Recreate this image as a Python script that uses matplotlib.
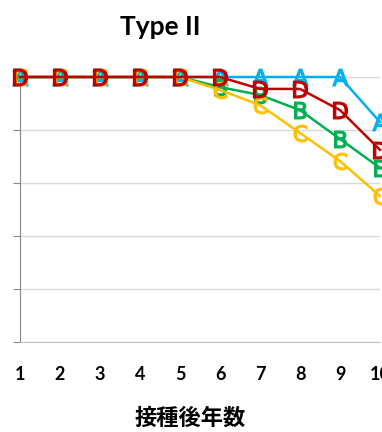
import matplotlib.pyplot as plt

plt.rcParams['font.family'] = ['Lato', 'Noto Sans CJK JP', 'DejaVu Sans']
plt.rcParams['mathtext.fontset'] = 'dejavusans'

years = [1, 2, 3, 4, 5, 6, 7, 8, 9, 10]
series_a = [100, 100, 100, 100, 100, 100, 100, 100, 100, 83]
series_b = [100, 100, 100, 100, 100, 96.2, 93.2, 87.5, 76.6, 65.7]
series_c = [100, 100, 100, 100, 100, 95.1, 89.4, 78.9, 68.3, 55.1]
series_d = [100, 100, 100, 100, 100, 100, 95.5, 95.5, 87.5, 72.5]

series = [
    ("A", series_a, "#00b0f0"),
    ("B", series_b, "#00b050"),
    ("C", series_c, "#ffc000"),
    ("D", series_d, "#c00000"),
]

W, H = 382, 432
fig = plt.figure(figsize=(W / 100, H / 100), dpi=100)
ax = fig.add_axes([20 / W, (H - 342) / H, 360 / W, 265 / H])

for name, vals, color in series:
    ax.plot(years, vals, color=color, lw=1.8, marker=r"$\mathsf{%s}$" % name,
            markersize=12, markeredgewidth=0.9, clip_on=False, zorder=3)

ax.set_xlim(1, 10)
ax.set_ylim(0, 100)
ax.set_yticks([0, 20, 40, 60, 80, 100])
ax.set_xticks(years)
ax.set_xticklabels([str(y) for y in years], fontsize=13, fontweight="bold")
ax.tick_params(axis="x", length=0, pad=17)
ax.tick_params(axis="y", length=5, color="#888888", labelleft=False)
ax.grid(axis="y", color="#d9d9d9", lw=1)
ax.set_axisbelow(True)
for side in ("top", "right"):
    ax.spines[side].set_visible(False)
ax.spines["left"].set_color("#888888")
ax.spines["bottom"].set_color("#bfbfbf")

fig.text(160 / W, 1 - 27 / H, "Type II", ha="center", va="center",
         fontsize=19, fontweight="bold")
fig.text(190 / W, 1 - 418 / H, "接種後年数", ha="center", va="center",
         fontsize=16, fontweight="bold")

fig.savefig("out.png", dpi=100)
